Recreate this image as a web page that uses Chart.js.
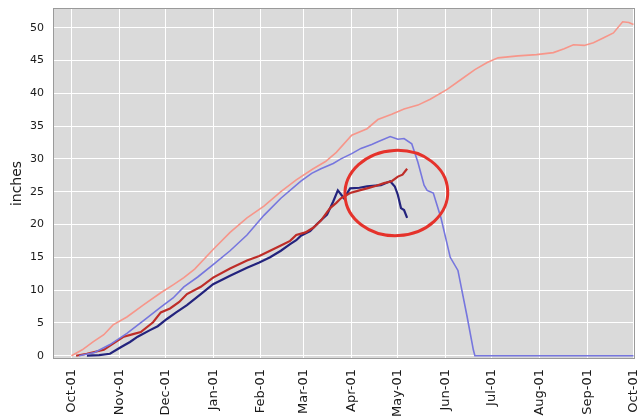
<!DOCTYPE html>
<html>
<head>
<meta charset="utf-8">
<script src="https://cdn.jsdelivr.net/npm/chart.js@4/dist/chart.umd.min.js"></script>
<style>
  html, body { margin: 0; padding: 0; background: #fff; }
  #wrap { width: 642px; height: 418px; }
</style>
</head>
<body>
<div id="wrap"><canvas id="snow-chart"></canvas></div>
<script>
// x values are days since Oct 1
const monthDays = [0, 31, 61, 92, 123, 151, 182, 212, 243, 273, 304, 335, 365];
const monthLabels = ["Oct-01", "Nov-01", "Dec-01", "Jan-01", "Feb-01", "Mar-01", "Apr-01",
                     "May-01", "Jun-01", "Jul-01", "Aug-01", "Sep-01", "Oct-01"];
const yTicks = [0, 5, 10, 15, 20, 25, 30, 35, 40, 45, 50];

// light red line
const maxDays = [0, 7, 14, 21, 27, 36, 47, 58, 66, 73, 80, 92, 103, 114, 125, 136, 146, 157, 165, 172,
                 182, 192, 199, 208, 216, 225, 233, 244, 253, 262, 270, 277, 290, 302, 313, 320, 326,
                 333, 339, 346, 352, 358, 362, 365];
const maxInches = [0, 0.9, 2.1, 3.2, 4.7, 5.9, 7.8, 9.6, 10.8, 11.9, 13.2, 16.2, 18.8, 21, 22.8, 25, 26.8,
                   28.5, 29.6, 31, 33.6, 34.6, 36, 36.8, 37.6, 38.2, 39.1, 40.6, 42.1, 43.6, 44.7, 45.4,
                   45.7, 45.9, 46.2, 46.8, 47.4, 47.3, 47.7, 48.5, 49.2, 50.9, 50.8, 50.5];

// light blue line
const medianDays = [5, 15, 25, 36, 47, 58, 66, 73, 82, 92, 103, 114, 125, 136, 149, 156, 162, 170, 175,
                    182, 188, 195, 199, 207, 212, 216, 221, 225, 229, 231, 235, 240, 246, 251, 257, 261,
                    262, 365];
const medianInches = [0, 0.5, 1.7, 3.4, 5.4, 7.4, 8.8, 10.5, 12, 13.9, 16, 18.4, 21.4, 24, 26.6, 27.8,
                      28.5, 29.3, 30, 30.8, 31.6, 32.2, 32.6, 33.4, 33, 33.1, 32.3, 29.5, 26, 25.2, 24.8,
                      21, 15, 13, 5.9, 0.9, 0, 0];

// dark red line
const precipDays = [3, 10, 21, 28, 34, 40, 45, 53, 58, 64, 70, 75, 84, 92, 103, 114, 122, 129, 136, 142,
                    146, 152, 157, 162, 168, 172, 175, 181, 187, 192, 198, 203, 208, 212, 215, 218];
const precipInches = [0, 0.3, 0.9, 2, 2.9, 3.3, 3.6, 5.1, 6.6, 7.2, 8.2, 9.4, 10.5, 11.9, 13.3, 14.5, 15.2,
                      16, 16.8, 17.5, 18.4, 18.8, 19.5, 20.6, 22.5, 23.3, 24, 24.8, 25.2, 25.5, 25.9,
                      26.3, 26.6, 27.3, 27.6, 28.5];

// dark blue line
const sweDays = [10, 18, 25, 32, 38, 43, 51, 56, 62, 68, 75, 84, 92, 103, 114, 122, 129, 136, 142, 146,
                 149, 155, 160, 166, 170, 173, 177, 181, 187, 192, 201, 207, 210, 212, 214, 216, 218];
const sweInches = [0, 0.1, 0.3, 1.3, 2.1, 2.9, 3.9, 4.5, 5.6, 6.6, 7.7, 9.4, 10.9, 12.2, 13.4, 14.2, 15,
                   16, 17, 17.6, 18.3, 19, 20.2, 21.5, 23.5, 25.2, 24, 25.5, 25.6, 25.8, 26, 26.6, 25.8,
                   24.5, 22.5, 22.2, 21];

// red circle drawn over the chart (day, inches)
const circleCenter = [211, 24.8];
const circleRadius = [33.4, 6.5];

function toPoints(xs, ys) {
    return xs.map((x, i) => ({ x: x, y: ys[i] }));
}

const plotBackground = {
    id: "plotBackground",
    beforeDraw(chart) {
        const { ctx, chartArea: a } = chart;
        ctx.save();
        ctx.fillStyle = "#dadada";
        ctx.fillRect(a.left, a.top, a.right - a.left, a.bottom - a.top);
        ctx.restore();
    },
    afterDraw(chart) {
        const { ctx, chartArea: a, scales } = chart;
        ctx.save();
        ctx.strokeStyle = "#9a9a9a";
        ctx.lineWidth = 1;
        ctx.strokeRect(a.left + 0.5, a.top + 0.5, a.right - a.left - 1, a.bottom - a.top - 1);

        // annotation ellipse
        const cx = scales.x.getPixelForValue(circleCenter[0]);
        const cy = scales.y.getPixelForValue(circleCenter[1]);
        const rx = Math.abs(scales.x.getPixelForValue(circleCenter[0] + circleRadius[0]) - cx);
        const ry = Math.abs(scales.y.getPixelForValue(circleCenter[1] + circleRadius[1]) - cy);
        ctx.strokeStyle = "#e5322b";
        ctx.lineWidth = 3;
        ctx.beginPath();
        ctx.ellipse(cx, cy, rx, ry, -0.05, 0, Math.PI * 2);
        ctx.stroke();
        ctx.restore();
    }
};

const ctx = document.getElementById("snow-chart").getContext("2d");
new Chart(ctx, {
    type: "line",
    data: {
        datasets: [
            {
                label: "Max",
                data: toPoints(maxDays, maxInches),
                borderColor: "rgba(247, 150, 138, 1)",
                borderWidth: 1.6,
            },
            {
                label: "Median",
                data: toPoints(medianDays, medianInches),
                borderColor: "rgba(118, 118, 222, 1)",
                borderWidth: 1.6,
            },
            {
                label: "Precip",
                data: toPoints(precipDays, precipInches),
                borderColor: "rgba(190, 45, 40, 1)",
                borderWidth: 2.2,
            },
            {
                label: "SWE",
                data: toPoints(sweDays, sweInches),
                borderColor: "rgba(35, 35, 125, 1)",
                borderWidth: 2.2,
            },
        ],
    },
    options: {
        responsive: true,
        maintainAspectRatio: false,
        animation: false,
        layout: { padding: { top: 8, right: 7, left: 0, bottom: 0 } },
        elements: { point: { radius: 0 }, line: { tension: 0 } },
        plugins: {
            legend: { display: false },
            tooltip: { enabled: false },
        },
        scales: {
            x: {
                type: "linear",
                min: -12,
                max: 366,
                afterBuildTicks: (axis) => {
                    axis.ticks = monthDays.map(v => ({ value: v }));
                },
                afterFit: (scale) => {
                    scale.height = 59;
                    scale.paddingLeft = 0;
                    scale.paddingRight = 0;
                },
                ticks: {
                    autoSkip: false,
                    minRotation: 90,
                    maxRotation: 90,
                    padding: 10,
                    color: "#1a1a1a",
                    font: { family: "DejaVu Sans", size: 13 },
                    callback: (v) => monthLabels[monthDays.indexOf(v)],
                },
                grid: { color: "#ffffff", lineWidth: 1, drawTicks: false },
                border: { display: false },
            },
            y: {
                min: -0.5,
                max: 53,
                afterBuildTicks: (axis) => {
                    axis.ticks = yTicks.map(v => ({ value: v }));
                },
                afterFit: (scale) => {
                    scale.width = 53;
                    scale.paddingTop = 0;
                    scale.paddingBottom = 0;
                },
                ticks: {
                    padding: 9,
                    color: "#1a1a1a",
                    font: { family: "DejaVu Sans", size: 11 },
                },
                grid: { color: "#ffffff", lineWidth: 1, drawTicks: false },
                border: { display: false },
                title: {
                    display: true,
                    text: "inches",
                    color: "#1a1a1a",
                    padding: { top: 9, bottom: 0 },
                    font: { family: "DejaVu Sans", size: 14 },
                },
            },
        },
    },
    plugins: [plotBackground],
});
</script>
</body>
</html>
